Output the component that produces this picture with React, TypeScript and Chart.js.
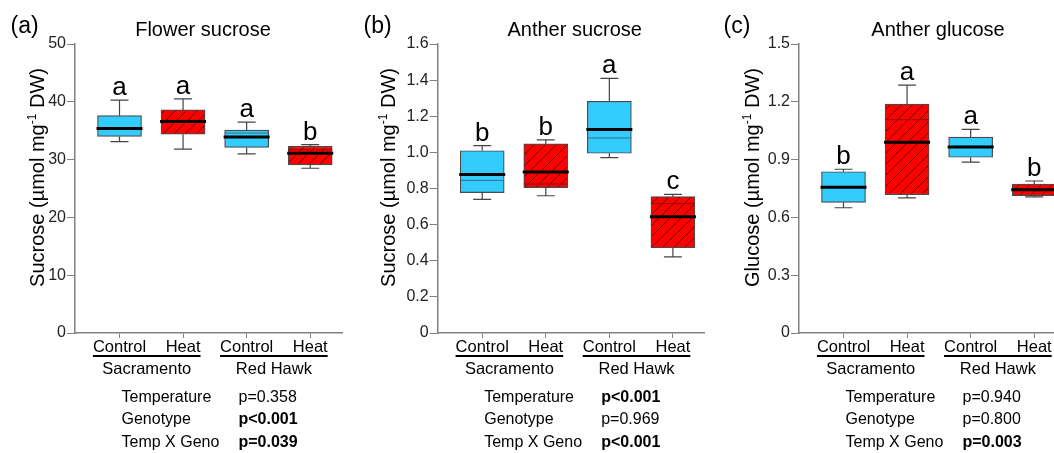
import React, { useEffect, useRef } from "react";
import { Chart, registerables } from "chart.js";

Chart.register(...registerables);

const FONT = "'Liberation Sans', Arial, sans-serif";

// ---------- shared categories ----------
const treatments = ["Control", "Heat", "Control", "Heat"];
const genotypes = ["Sacramento", "Red Hawk"];
const statLabels = ["Temperature", "Genotype", "Temp X Geno"];

// ---------- (a) Flower sucrose ----------
const flowerSucroseMin = [33.1, 31.8, 31.0, 28.5];
const flowerSucroseQ1 = [34.0, 34.4, 32.1, 29.1];
const flowerSucroseMedian = [35.4, 36.6, 33.9, 31.1];
const flowerSucroseMean: (number | null)[] = [null, 36.8, 34.6, 31.7];
const flowerSucroseQ3 = [37.6, 38.6, 35.1, 32.3];
const flowerSucroseMax = [40.3, 40.5, 36.5, 32.6];
const flowerSucroseLetters = ["a", "a", "a", "b"];
const flowerSucroseTicks = [0, 10, 20, 30, 40, 50];
const flowerSucroseP = ["p=0.358", "p<0.001", "p=0.039"];
const flowerSucrosePBold = [false, true, true];

// ---------- (b) Anther sucrose ----------
const antherSucroseMin = [0.74, 0.76, 0.971, 0.421];
const antherSucroseQ1 = [0.777, 0.805, 0.995, 0.472];
const antherSucroseMedian = [0.877, 0.891, 1.126, 0.644];
const antherSucroseMean: (number | null)[] = [0.845, 0.825, 1.08, 0.716];
const antherSucroseQ3 = [1.009, 1.047, 1.283, 0.755];
const antherSucroseMax = [1.037, 1.069, 1.41, 0.768];
const antherSucroseLetters = ["b", "b", "a", "c"];
const antherSucroseTicks = [0, 0.2, 0.4, 0.6, 0.8, 1.0, 1.2, 1.4, 1.6];
const antherSucroseP = ["p<0.001", "p=0.969", "p<0.001"];
const antherSucrosePBold = [true, false, true];

// ---------- (c) Anther glucose ----------
const antherGlucoseMin = [0.65, 0.701, 0.887, 0.707];
const antherGlucoseQ1 = [0.678, 0.718, 0.912, 0.713];
const antherGlucoseMedian = [0.756, 0.99, 0.965, 0.744];
const antherGlucoseMean: (number | null)[] = [null, 1.107, null, null];
const antherGlucoseQ3 = [0.837, 1.188, 1.017, 0.773];
const antherGlucoseMax = [0.85, 1.287, 1.057, 0.789];
const antherGlucoseLetters = ["b", "a", "a", "b"];
const antherGlucoseTicks = [0, 0.3, 0.6, 0.9, 1.2, 1.5];
const antherGlucoseP = ["p=0.940", "p=0.800", "p=0.003"];
const antherGlucosePBold = [false, false, true];

// ---------- styles / layout ----------
const CANVAS_W = 360;
const CANVAS_H = 453;
const AXIS_LEN = 267;
const PLOT_TOP = 44;
const PLOT_BOTTOM = 333;
const BOX_W = 44;
const AXIS_COLOR = "#808080";
const BLUE = "#33CCFF";
const RED = "#FF0000";

type Panel = {
  tag: string;
  title: string;
  yName: string;
  ticks: number[];
  decimals: number;
  min: number[];
  q1: number[];
  median: number[];
  mean: (number | null)[];
  q3: number[];
  max: number[];
  letters: string[];
  pValues: string[];
  pBold: boolean[];
  canvasLeft: number;
  axisLeft: number;
  tagX: number;
  titleX: number;
  yTitleOffset: number;
};

const panels: Panel[] = [
  {
    tag: "(a)", title: "Flower sucrose", yName: "Sucrose", ticks: flowerSucroseTicks, decimals: 0,
    min: flowerSucroseMin, q1: flowerSucroseQ1, median: flowerSucroseMedian, mean: flowerSucroseMean,
    q3: flowerSucroseQ3, max: flowerSucroseMax, letters: flowerSucroseLetters,
    pValues: flowerSucroseP, pBold: flowerSucrosePBold,
    canvasLeft: 0, axisLeft: 75, tagX: 10.5, titleX: 203, yTitleOffset: 38.3,
  },
  {
    tag: "(b)", title: "Anther sucrose", yName: "Sucrose", ticks: antherSucroseTicks, decimals: 1,
    min: antherSucroseMin, q1: antherSucroseQ1, median: antherSucroseMedian, mean: antherSucroseMean,
    q3: antherSucroseQ3, max: antherSucroseMax, letters: antherSucroseLetters,
    pValues: antherSucroseP, pBold: antherSucrosePBold,
    canvasLeft: 360, axisLeft: 77.7, tagX: 3.5, titleX: 214.7, yTitleOffset: 49.4,
  },
  {
    tag: "(c)", title: "Anther glucose", yName: "Glucose", ticks: antherGlucoseTicks, decimals: 1,
    min: antherGlucoseMin, q1: antherGlucoseQ1, median: antherGlucoseMedian, mean: antherGlucoseMean,
    q3: antherGlucoseQ3, max: antherGlucoseMax, letters: antherGlucoseLetters,
    pValues: antherGlucoseP, pBold: antherGlucosePBold,
    canvasLeft: 720, axisLeft: 79, tagX: 3.5, titleX: 218, yTitleOffset: 47,
  },
];

function makeHatch(): CanvasPattern | string {
  const c = document.createElement("canvas");
  const s = 11;
  c.width = s;
  c.height = s;
  const g = c.getContext("2d");
  if (!g) return RED;
  g.fillStyle = RED;
  g.fillRect(0, 0, s, s);
  g.strokeStyle = "rgba(70,0,0,0.85)";
  g.lineWidth = 0.9;
  g.beginPath();
  g.moveTo(-1, s + 1);
  g.lineTo(s + 1, -1);
  g.moveTo(-1, 1);
  g.lineTo(1, -1);
  g.moveTo(s - 1, s + 1);
  g.lineTo(s + 1, s - 1);
  g.stroke();
  const pat = g.createPattern(c, "repeat");
  return pat || RED;
}

function makePlugin(p: Panel) {
  return {
    id: "boxExtras",
    afterDatasetsDraw(chart: any) {
      const { ctx } = chart;
      const xs = chart.scales.x;
      const ys = chart.scales.y;
      ctx.save();
      for (let i = 0; i < treatments.length; i++) {
        const cx = xs.getPixelForValue(i);
        const half = BOX_W / 2;
        const yMax = ys.getPixelForValue(p.max[i]);
        const yMin = ys.getPixelForValue(p.min[i]);
        const yQ1 = ys.getPixelForValue(p.q1[i]);
        const yQ3 = ys.getPixelForValue(p.q3[i]);
        // whiskers
        ctx.strokeStyle = "#444";
        ctx.lineWidth = 1.2;
        ctx.beginPath();
        ctx.moveTo(cx, yQ3);
        ctx.lineTo(cx, yMax);
        ctx.moveTo(cx - 9, yMax);
        ctx.lineTo(cx + 9, yMax);
        ctx.moveTo(cx, yQ1);
        ctx.lineTo(cx, yMin);
        ctx.moveTo(cx - 9, yMin);
        ctx.lineTo(cx + 9, yMin);
        ctx.stroke();
        // mean (thin)
        const m = p.mean[i];
        if (m !== null && m !== undefined) {
          const ym = ys.getPixelForValue(m);
          ctx.strokeStyle = i % 2 === 1 ? "#8a1010" : "#3a6f86";
          ctx.lineWidth = 1;
          ctx.beginPath();
          ctx.moveTo(cx - half, ym);
          ctx.lineTo(cx + half, ym);
          ctx.stroke();
        }
        // median (thick)
        const ymed = ys.getPixelForValue(p.median[i]);
        ctx.strokeStyle = "#000";
        ctx.lineWidth = 3;
        ctx.beginPath();
        ctx.moveTo(cx - half - 1, ymed);
        ctx.lineTo(cx + half + 1, ymed);
        ctx.stroke();
        // significance letter
        ctx.fillStyle = "#000";
        ctx.font = `26px ${FONT}`;
        ctx.textAlign = "center";
        ctx.textBaseline = "alphabetic";
        ctx.fillText(p.letters[i], cx, yMax - 5);
      }
      ctx.restore();
    },
    afterDraw(chart: any) {
      const { ctx } = chart;
      const xs = chart.scales.x;
      const A = p.axisLeft;
      ctx.save();
      ctx.fillStyle = "#000";
      ctx.textBaseline = "alphabetic";
      // panel tag
      ctx.textAlign = "left";
      ctx.font = `23px ${FONT}`;
      ctx.fillText(p.tag, p.tagX, 33);
      // title
      ctx.textAlign = "center";
      ctx.font = `20px ${FONT}`;
      ctx.fillText(p.title, p.titleX, 36);
      // y-axis title (rotated, with superscript)
      const part1 = `${p.yName} (\u00B5mol mg`;
      const sup = "-1";
      const part3 = " DW)";
      ctx.font = `20px ${FONT}`;
      const w1 = ctx.measureText(part1).width;
      const w3 = ctx.measureText(part3).width;
      ctx.font = `12px ${FONT}`;
      const w2 = ctx.measureText(sup).width;
      const total = w1 + w2 + w3;
      ctx.translate(A - p.yTitleOffset, 177.5);
      ctx.rotate(-Math.PI / 2);
      ctx.textAlign = "left";
      let xx = -total / 2;
      ctx.font = `20px ${FONT}`;
      ctx.fillText(part1, xx, 7);
      xx += w1;
      ctx.font = `12px ${FONT}`;
      ctx.fillText(sup, xx, -1);
      xx += w2;
      ctx.font = `20px ${FONT}`;
      ctx.fillText(part3, xx, 7);
      ctx.setTransform(1, 0, 0, 1, 0, 0);
      // x labels + group underline + group names
      ctx.font = `16.5px ${FONT}`;
      ctx.textAlign = "center";
      const lefts: number[] = [];
      const rights: number[] = [];
      for (let i = 0; i < treatments.length; i++) {
        const cx = xs.getPixelForValue(i);
        ctx.fillText(treatments[i], cx, 351.5);
        const w = ctx.measureText(treatments[i]).width;
        lefts.push(cx - w / 2);
        rights.push(cx + w / 2);
      }
      ctx.strokeStyle = "#000";
      ctx.lineWidth = 2;
      for (let g = 0; g < genotypes.length; g++) {
        const l = lefts[g * 2];
        const r = rights[g * 2 + 1];
        ctx.beginPath();
        ctx.moveTo(l, 356);
        ctx.lineTo(r, 356);
        ctx.stroke();
        ctx.fillText(genotypes[g], (l + r) / 2, 374);
      }
      // statistics table
      ctx.textAlign = "left";
      const rowsY = [401.7, 424.2, 446.7];
      for (let r = 0; r < statLabels.length; r++) {
        ctx.font = `16px ${FONT}`;
        ctx.fillText(statLabels[r], A + 46.5, rowsY[r]);
        ctx.font = `${p.pBold[r] ? "bold " : ""}16px ${FONT}`;
        ctx.fillText(p.pValues[r], A + 163.5, rowsY[r]);
      }
      ctx.restore();
    },
  };
}

function PanelChart({ p }: { p: Panel }) {
  const ref = useRef<HTMLCanvasElement | null>(null);
  useEffect(() => {
    if (!ref.current) return;
    const hatch = makeHatch();
    const fills = treatments.map((_, i) => (i % 2 === 1 ? hatch : BLUE));
    const chart = new Chart(ref.current, {
      type: "bar",
      data: {
        datasets: [
          {
            data: treatments.map((_, i) => ({ x: i, y: [p.q1[i], p.q3[i]] })) as any,
            backgroundColor: fills as any,
            borderColor: "#4a4a4a",
            borderWidth: 1.2,
            borderSkipped: false,
            barThickness: BOX_W,
          },
        ],
      },
      options: {
        animation: false,
        responsive: false,
        devicePixelRatio: 1,
        events: [],
        layout: {
          padding: {
            top: PLOT_TOP,
            left: 0,
            right: CANVAS_W - p.axisLeft - AXIS_LEN,
            bottom: 0,
          },
        },
        plugins: {
          legend: { display: false },
          tooltip: { enabled: false },
        },
        scales: {
          x: {
            type: "linear",
            min: -0.7,
            max: 3.5,
            offset: false,
            afterBuildTicks: (s: any) => {
              s.ticks = treatments.map((_, i) => ({ value: i }));
            },
            afterFit: (s: any) => {
              s.height = CANVAS_H - PLOT_BOTTOM;
            },
            ticks: { display: false },
            grid: {
              offset: false,
              drawOnChartArea: false,
              drawTicks: true,
              tickLength: 5,
              color: AXIS_COLOR,
              lineWidth: 1,
            },
            border: { display: true, color: AXIS_COLOR, width: 1.5 },
          },
          y: {
            type: "linear",
            min: p.ticks[0],
            max: p.ticks[p.ticks.length - 1],
            afterBuildTicks: (s: any) => {
              s.ticks = p.ticks.map((v) => ({ value: v }));
            },
            afterFit: (s: any) => {
              s.width = p.axisLeft;
            },
            ticks: {
              callback: (v: any) => (Number(v) === 0 ? "0" : Number(v).toFixed(p.decimals)),
              font: { family: FONT, size: 16 },
              color: "#222",
              padding: 1,
            },
            grid: {
              drawOnChartArea: false,
              drawTicks: true,
              tickLength: 8,
              color: AXIS_COLOR,
              lineWidth: 1,
            },
            border: { display: true, color: AXIS_COLOR, width: 1.5 },
          },
        },
      } as any,
      plugins: [makePlugin(p)],
    });
    return () => chart.destroy();
  }, [p]);
  return (
    <canvas
      ref={ref}
      width={CANVAS_W}
      height={CANVAS_H}
      style={{
        position: "absolute",
        left: p.canvasLeft,
        top: 0,
        width: CANVAS_W,
        height: CANVAS_H,
      }}
    />
  );
}

export default function App() {
  return (
    <div
      style={{
        position: "fixed",
        left: 0,
        top: 0,
        width: 1054,
        height: 453,
        overflow: "hidden",
        background: "#fff",
      }}
    >
      {panels.map((p) => (
        <PanelChart key={p.tag} p={p} />
      ))}
    </div>
  );
}
